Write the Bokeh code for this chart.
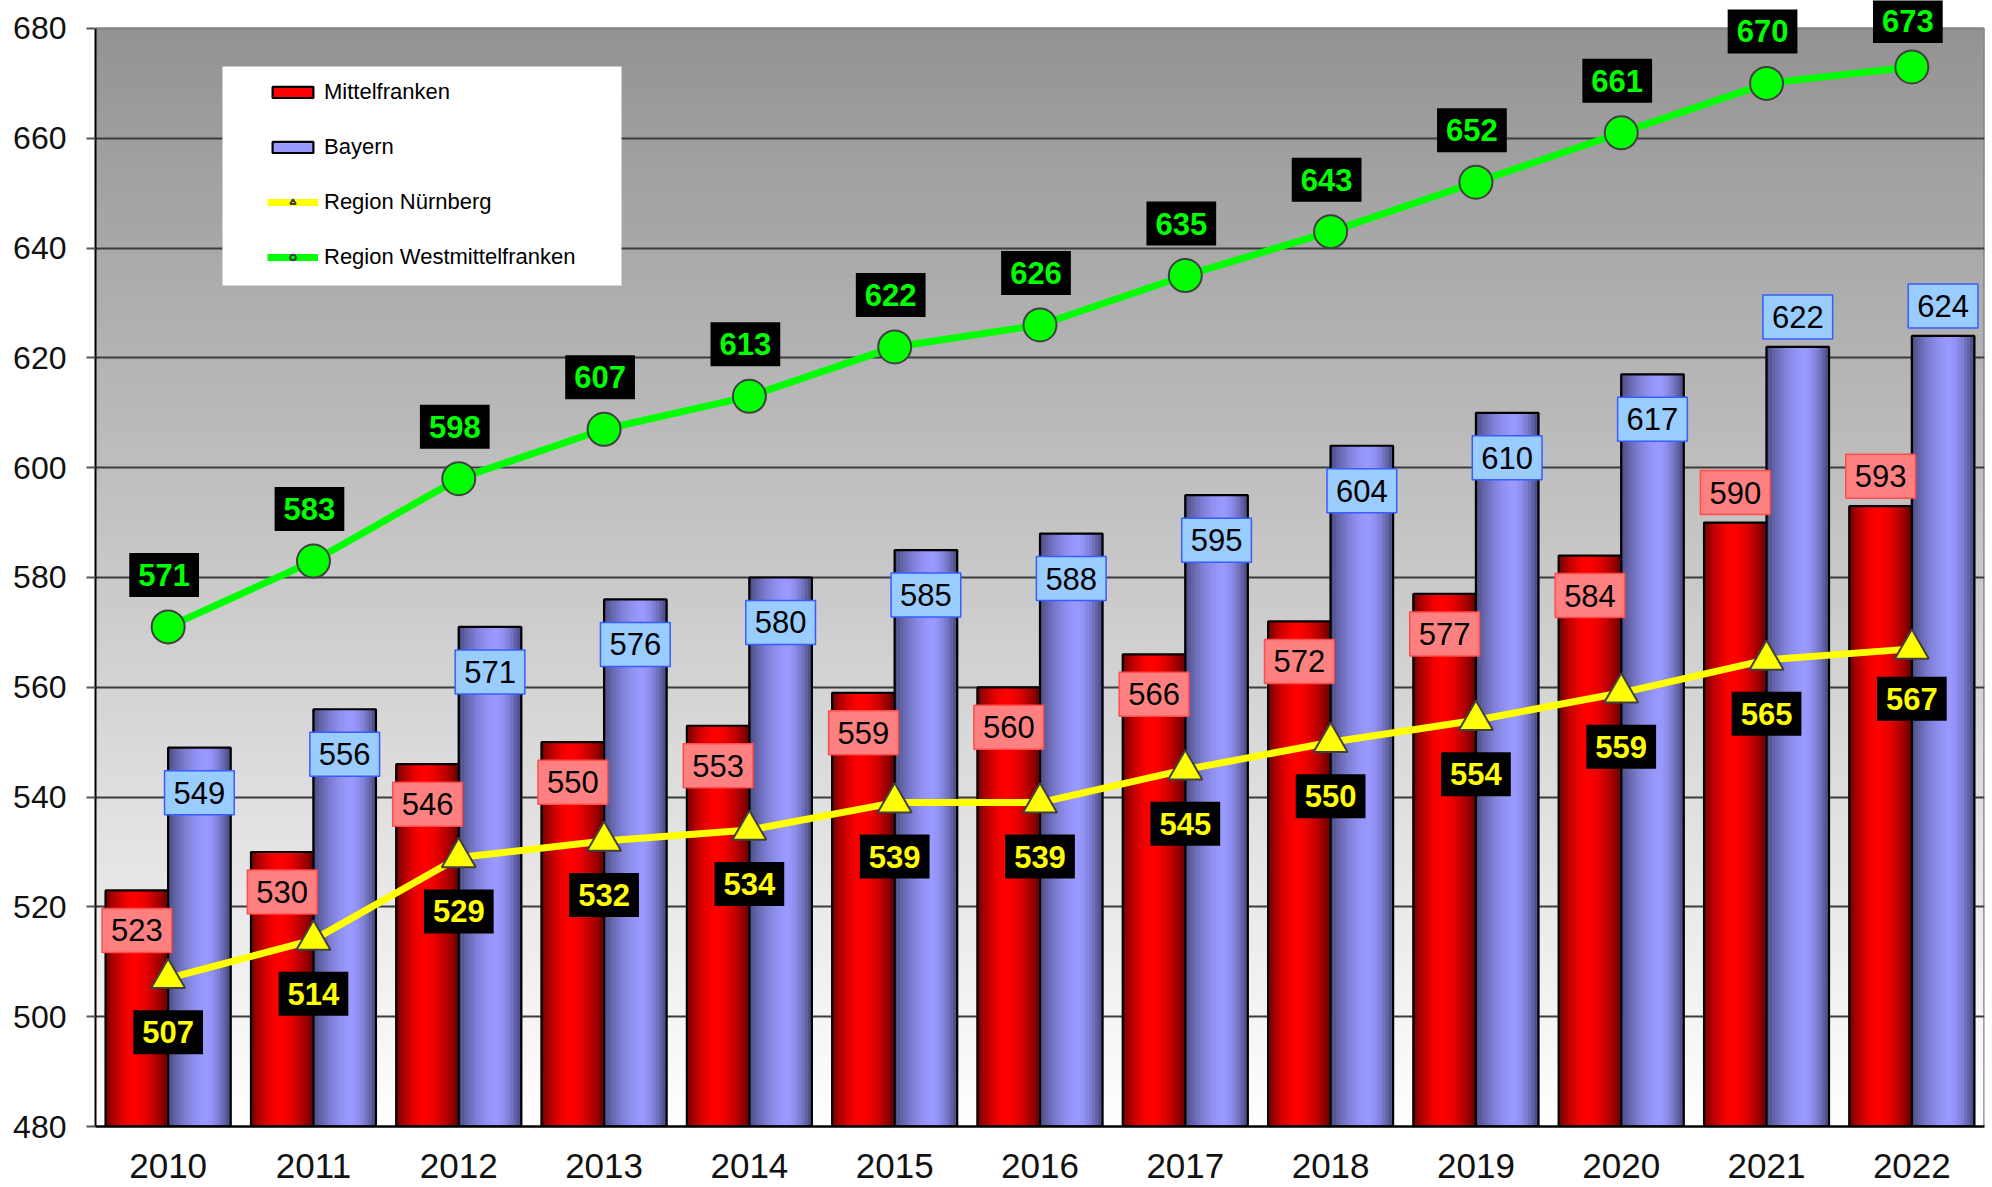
import numpy as np
from bokeh.plotting import figure
from bokeh.models import (ColumnDataSource, Range1d, FixedTicker, Legend, LegendItem,
                          BoxAnnotation)
from bokeh.core.properties import value
from bokeh.embed import file_html
from bokeh.resources import INLINE

# ---------------- data ----------------
years = ["2010", "2011", "2012", "2013", "2014", "2015", "2016",
         "2017", "2018", "2019", "2020", "2021", "2022"]
mittelfranken = [523, 530, 546, 550, 553, 559, 560, 566, 572, 577, 584, 590, 593]
bayern = [549, 556, 571, 576, 580, 585, 588, 595, 604, 610, 617, 622, 624]
region_nuernberg = [507, 514, 529, 532, 534, 539, 539, 545, 550, 554, 559, 565, 567]
region_westmittelfranken = [571, 583, 598, 607, 613, 622, 626, 635, 643, 652, 661, 670, 673]
y_ticks = [480, 500, 520, 540, 560, 580, 600, 620, 640, 660, 680]

# label offsets (screen px, positive = down)
off_mf = [40] * 11 + [-30, -30]
off_by = [45] * 11 + [-30, -30]
off_rn = [54] * 12 + [50]
off_rw = [-52] * 12 + [-46]

FONT = "Liberation Sans"
n = len(years)
idx = np.arange(n)
Y0, Y1 = y_ticks[0], y_ticks[-1]
HEADROOM = 5.1  # white space above the plot area so top labels are not clipped

p = figure(width=1988, height=1187, output_backend="svg", toolbar_location=None,
           x_range=Range1d(-0.5, n - 0.5), y_range=Range1d(Y0, Y1 + HEADROOM),
           min_border_left=95, min_border_right=4, min_border_top=0, min_border_bottom=61)
p.background_fill_color = "white"
p.border_fill_color = "white"
p.outline_line_color = None

# ---------------- background gradient (decoration) ----------------
nb = 120
edges = np.linspace(Y0, Y1, nb + 1)
tvals = (np.arange(nb) + 0.5) / nb  # 0 bottom -> 1 top
bg_cols = []
for t in tvals:
    g = int(round(255 - (255 - 147) * t))
    bg_cols.append("#%02x%02x%02x" % (g, g, g))
p.quad(left=-0.5, right=n - 0.5, bottom=edges[:-1], top=edges[1:],
       fill_color=bg_cols, line_color=bg_cols, line_width=1, level="image")

# ---------------- grid / axes ----------------
p.xgrid.visible = False
p.ygrid.ticker = FixedTicker(ticks=y_ticks[1:-1])
p.ygrid.grid_line_color = "#3c3c3c"
p.ygrid.grid_line_width = 1.8

p.yaxis.ticker = FixedTicker(ticks=y_ticks)
p.yaxis.bounds = (Y0, Y1)
p.yaxis.axis_line_color = "black"
p.yaxis.axis_line_width = 2
p.yaxis.major_tick_out = 9
p.yaxis.major_tick_in = 0
p.yaxis.major_tick_line_color = "#555555"
p.yaxis.major_tick_line_width = 2
p.yaxis.minor_tick_line_color = None
p.yaxis.major_label_standoff = 20
p.yaxis.major_label_text_font = FONT
p.yaxis.major_label_text_font_size = "32px"
p.yaxis.major_label_text_color = "#111111"

p.xaxis.ticker = FixedTicker(ticks=list(idx))
p.xaxis.major_label_overrides = {int(i): y for i, y in zip(idx, years)}
p.xaxis.axis_line_color = "black"
p.xaxis.axis_line_width = 2.5
p.xaxis.major_tick_line_color = None
p.xaxis.minor_tick_line_color = None
p.xaxis.major_label_standoff = 21
p.xaxis.major_label_text_font = FONT
p.xaxis.major_label_text_font_size = "35px"
p.xaxis.major_label_text_color = "#111111"

# top and right border of the plot area (gray)
p.segment(x0=[-0.5, n - 0.5], y0=[Y1, Y0], x1=[n - 0.5, n - 0.5], y1=[Y1, Y1],
          line_color="#858585", line_width=2.5, level="underlay")

# ---------------- cylinder-shaded bars ----------------
BW = 0.43
NS = 20


def shade(dark, bright, c, t):
    d = abs(t - c) / (c if t < c else (1 - c))
    g = 1 - d ** 1.7
    return "#%02x%02x%02x" % tuple(int(round(dk + (br - dk) * g)) for dk, br in zip(dark, bright))


def cyl_bars(vals, offset, dark, bright, c):
    xs, tops, cols = [], [], []
    for i, v in zip(idx, vals):
        for k in range(NS):
            t = (k + 0.5) / NS
            xs.append(i + offset - BW / 2 + t * BW)
            tops.append(v)
            cols.append(shade(dark, bright, c, t))
    strips = p.vbar(x=xs, top=tops, bottom=Y0, width=BW / NS * 1.6, fill_color=cols, line_color=None)
    outline = p.vbar(x=idx + offset, top=vals, bottom=Y0, width=BW, fill_color=None,
                     line_color="black", line_width=2.2)
    return strips, outline


mf_strips, mf_outline = cyl_bars(mittelfranken, -BW / 2, (105, 0, 0), (255, 0, 0), 0.47)
by_strips, by_outline = cyl_bars(bayern, BW / 2, (72, 72, 125), (153, 153, 255), 0.62)

# ---------------- lines ----------------
rn_line = p.line(idx, region_nuernberg, line_color="#ffff00", line_width=7)
rn_pts = p.scatter(idx, region_nuernberg, marker="triangle", size=34, fill_color="#ffff00",
                   line_color="#404040", line_width=2)
rw_line = p.line(idx, region_westmittelfranken, line_color="#00ff00", line_width=7)
rw_pts = p.scatter(idx, region_westmittelfranken, marker="circle", size=33, fill_color="#00ff00",
                   line_color="#404040", line_width=2)

# ---------------- data labels ----------------


def labels(xs, vals, offs, fill, border, color, style, xoff=0):
    src = ColumnDataSource(dict(x=list(xs), y=vals, t=[str(v) for v in vals], off=offs))
    p.text(x="x", y="y", text="t", source=src, y_offset="off", x_offset=xoff,
           text_align="center", text_baseline="middle",
           text_font=value(FONT), text_font_size="31px", text_font_style=style,
           text_color=color, background_fill_color=fill,
           border_line_color=border, border_line_width=1.5, padding=(9, 11))


labels(idx - BW / 2, mittelfranken, off_mf, "#ff8080", "#ff4d4d", "black", "normal")
labels(idx + BW / 2, bayern, off_by, "#99ccff", "#3a5cff", "black", "normal")
labels(idx, region_nuernberg, off_rn, "black", None, "#ffff00", "bold")
labels(idx, region_westmittelfranken, off_rw, "black", None, "#00ff00", "bold", xoff=-4)

# ---------------- legend ----------------
box = BoxAnnotation(left=127, right=526, top=1060, bottom=841,
                    left_units="screen", right_units="screen",
                    top_units="screen", bottom_units="screen",
                    fill_color="white", fill_alpha=1.0, line_color=None)
p.add_layout(box)

legend = Legend(items=[
    LegendItem(label="Mittelfranken", renderers=[mf_strips, mf_outline], index=9),
    LegendItem(label="Bayern", renderers=[by_strips, by_outline], index=12),
    LegendItem(label="Region Nürnberg", renderers=[rn_line, rn_pts]),
    LegendItem(label="Region Westmittelfranken", renderers=[rw_line, rw_pts]),
], location=(172, 856), orientation="vertical", padding=0, margin=0, spacing=29,
    label_height=26, glyph_height=14, glyph_width=51, label_standoff=6,
    background_fill_alpha=0, border_line_color=None,
    label_text_font=FONT, label_text_font_size="22px", label_text_color="black")
p.add_layout(legend)

open("out.html", "w").write(file_html(p, INLINE))
